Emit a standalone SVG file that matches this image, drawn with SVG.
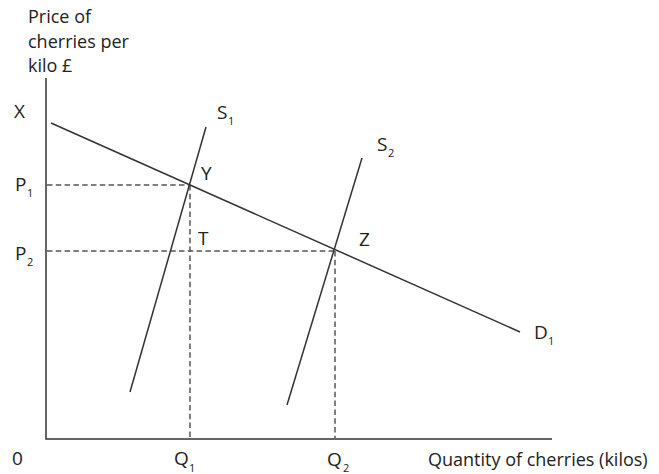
<svg xmlns="http://www.w3.org/2000/svg" width="659" height="474" viewBox="0 0 659 474">
<style>
.t{font-family:"Open Sans","Liberation Sans",sans-serif;font-size:18px;fill:#222}
.l{font-family:"Open Sans","Liberation Sans",sans-serif;font-size:19px;fill:#222}
.s{font-family:"Open Sans","Liberation Sans",sans-serif;font-size:11px;fill:#222}
.solid{stroke:#333;stroke-width:1.5;fill:none}
.dash{stroke:#555;stroke-width:1.5;fill:none;stroke-dasharray:5.5 3.3}
</style>
<rect width="659" height="474" fill="#fff"/>
<g id="axes">
<path class="solid" d="M46,78 V439 H552"/>
<text class="t" x="28" y="23">Price of</text>
<text class="t" x="28" y="48">cherries per</text>
<text class="t" x="28" y="72">kilo £</text>
<text class="t" x="428" y="466">Quantity of cherries (kilos)</text>
<text class="l" x="12" y="465">0</text>
</g>
<g id="connectors">
<line class="dash" x1="47" y1="185" x2="190" y2="185"/>
<line class="dash" x1="47" y1="251" x2="334" y2="251"/>
<line class="dash" x1="190" y1="185" x2="190" y2="438"/>
<line class="dash" x1="335" y1="251" x2="335" y2="438"/>
</g>
<g id="demand">
<line class="solid" x1="51" y1="123" x2="520" y2="332"/>
<text class="l" x="534" y="339">D</text><text class="s" x="548" y="345">1</text>
</g>
<g id="supply1">
<line class="solid" x1="206" y1="127" x2="130" y2="392"/>
<text class="l" x="217" y="119">S</text><text class="s" x="228" y="125">1</text>
</g>
<g id="supply2">
<line class="solid" x1="362" y1="158" x2="287" y2="405"/>
<text class="l" x="377" y="151">S</text><text class="s" x="388" y="157">2</text>
</g>
<g id="labels">
<text class="l" x="14" y="118">X</text>
<text class="l" x="15" y="191">P</text><text class="s" x="27" y="197">1</text>
<text class="l" x="15" y="260">P</text><text class="s" x="27" y="266">2</text>
<text class="l" x="201" y="180">Y</text>
<text class="l" x="198" y="245">T</text>
<text class="l" x="359" y="246">Z</text>
<text class="l" x="174" y="465">Q</text><text class="s" x="189" y="472">1</text>
<text class="l" x="327" y="466">Q</text><text class="s" x="343" y="472">2</text>
</g>
</svg>
